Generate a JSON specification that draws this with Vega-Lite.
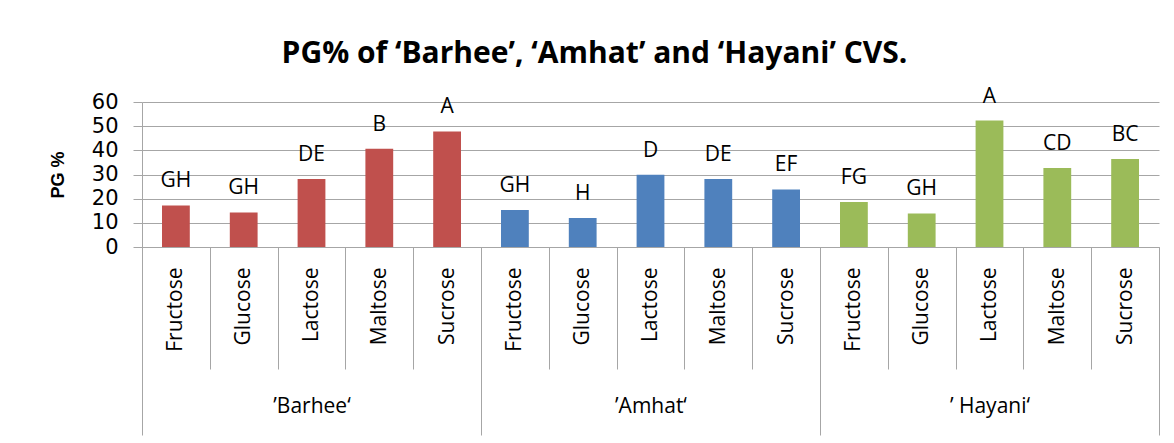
{
  "$schema": "https://vega.github.io/schema/vega-lite/v6.json",
  "autosize": {"type": "none"},
  "padding": {"left": 142, "top": 102, "right": 15, "bottom": 196},
  "width": 1017,
  "height": 145,
  "background": "white",
  "config": {"view": {"stroke": null}},
  "title": {
    "text": "PG% of ‘Barhee’, ‘Amhat’ and ‘Hayani’ CVS.",
    "font": "Open Sans",
    "fontWeight": "bold",
    "fontSize": 30,
    "color": "black",
    "anchor": "middle",
    "frame": "group",
    "dx": -56,
    "offset": 17
  },
  "data": {
    "values": [
      {"cv": "’Barhee‘", "key": "Barhee|Fructose", "pg": 17.2, "letter": "GH"},
      {"cv": "’Barhee‘", "key": "Barhee|Glucose", "pg": 14.3, "letter": "GH"},
      {"cv": "’Barhee‘", "key": "Barhee|Lactose", "pg": 28.1, "letter": "DE"},
      {"cv": "’Barhee‘", "key": "Barhee|Maltose", "pg": 40.7, "letter": "B"},
      {"cv": "’Barhee‘", "key": "Barhee|Sucrose", "pg": 47.8, "letter": "A"},
      {"cv": "’Amhat‘", "key": "Amhat|Fructose", "pg": 15.3, "letter": "GH"},
      {"cv": "’Amhat‘", "key": "Amhat|Glucose", "pg": 12.0, "letter": "H"},
      {"cv": "’Amhat‘", "key": "Amhat|Lactose", "pg": 29.9, "letter": "D"},
      {"cv": "’Amhat‘", "key": "Amhat|Maltose", "pg": 28.1, "letter": "DE"},
      {"cv": "’Amhat‘", "key": "Amhat|Sucrose", "pg": 23.8, "letter": "EF"},
      {"cv": "’ Hayani‘", "key": "Hayani|Fructose", "pg": 18.6, "letter": "FG"},
      {"cv": "’ Hayani‘", "key": "Hayani|Glucose", "pg": 13.9, "letter": "GH"},
      {"cv": "’ Hayani‘", "key": "Hayani|Lactose", "pg": 52.3, "letter": "A"},
      {"cv": "’ Hayani‘", "key": "Hayani|Maltose", "pg": 32.7, "letter": "CD"},
      {"cv": "’ Hayani‘", "key": "Hayani|Sucrose", "pg": 36.4, "letter": "BC"}
    ]
  },
  "resolve": {"scale": {"x": "independent"}, "axis": {"x": "independent"}},
  "encoding": {
    "y": {
      "field": "pg", "type": "quantitative",
      "scale": {"domain": [0, 60], "nice": false, "zero": true},
      "axis": {
        "title": "PG %", "values": [0, 10, 20, 30, 40, 50, 60],
        "grid": true, "gridColor": "#a6a6a6", "gridWidth": 1,
        "domain": true, "domainColor": "#a6a6a6",
        "ticks": true, "tickSize": 9, "tickColor": "#a6a6a6",
        "labelOverlap": false,
        "labelFont": "DejaVu Sans", "labelFontSize": 21, "labelColor": "black", "labelPadding": 15,
        "titleFont": "Liberation Sans", "titleFontWeight": "bold", "titleFontSize": 18, "titleColor": "black",
        "titlePadding": 24
      }
    }
  },
  "layer": [
    {
      "encoding": {
        "x": {
          "field": "key", "type": "nominal", "sort": null,
          "scale": {"paddingInner": 0, "paddingOuter": 0},
          "axis": {
            "orient": "bottom", "title": null, "grid": false,
            "domain": true, "domainColor": "#a6a6a6", "domainWidth": 1,
            "ticks": true, "tickBand": "extent", "tickSize": 122, "tickColor": "#a6a6a6", "tickWidth": 1,
            "labelExpr": "split(datum.value, '|')[1]",
            "labelAngle": 270, "labelAlign": "right", "labelBaseline": "middle",
            "labelPadding": -102, "labelOverlap": false,
            "labelFont": "Open Sans", "labelFontSize": 21, "labelColor": "black"
          }
        }
      },
      "layer": [
        {
          "mark": {"type": "bar", "width": {"band": 0.41}},
          "encoding": {
            "color": {
              "field": "cv", "type": "nominal", "legend": null,
              "scale": {"domain": ["’Barhee‘", "’Amhat‘", "’ Hayani‘"], "range": ["#C0504D", "#4F81BD", "#9BBB59"]}
            }
          }
        },
        {
          "mark": {"type": "text", "dy": -24, "baseline": "middle", "font": "Open Sans", "fontSize": 21, "color": "black"},
          "encoding": {
            "text": {"field": "letter"}
          }
        }
      ]
    },
    {
      "mark": {"type": "point", "opacity": 0},
      "encoding": {
        "x": {
          "field": "cv", "type": "nominal", "sort": null,
          "scale": {"paddingInner": 0, "paddingOuter": 0},
          "axis": {
            "orient": "bottom", "title": null, "grid": false, "domain": false,
            "ticks": true, "tickBand": "extent", "tickSize": 188, "tickColor": "#a6a6a6", "tickWidth": 1,
            "labelAngle": 0, "labelBaseline": "middle", "labelAlign": "center", "labelPadding": -29,
            "labelFont": "Open Sans", "labelFontSize": 21, "labelColor": "black"
          }
        }
      }
    }
  ]
}
